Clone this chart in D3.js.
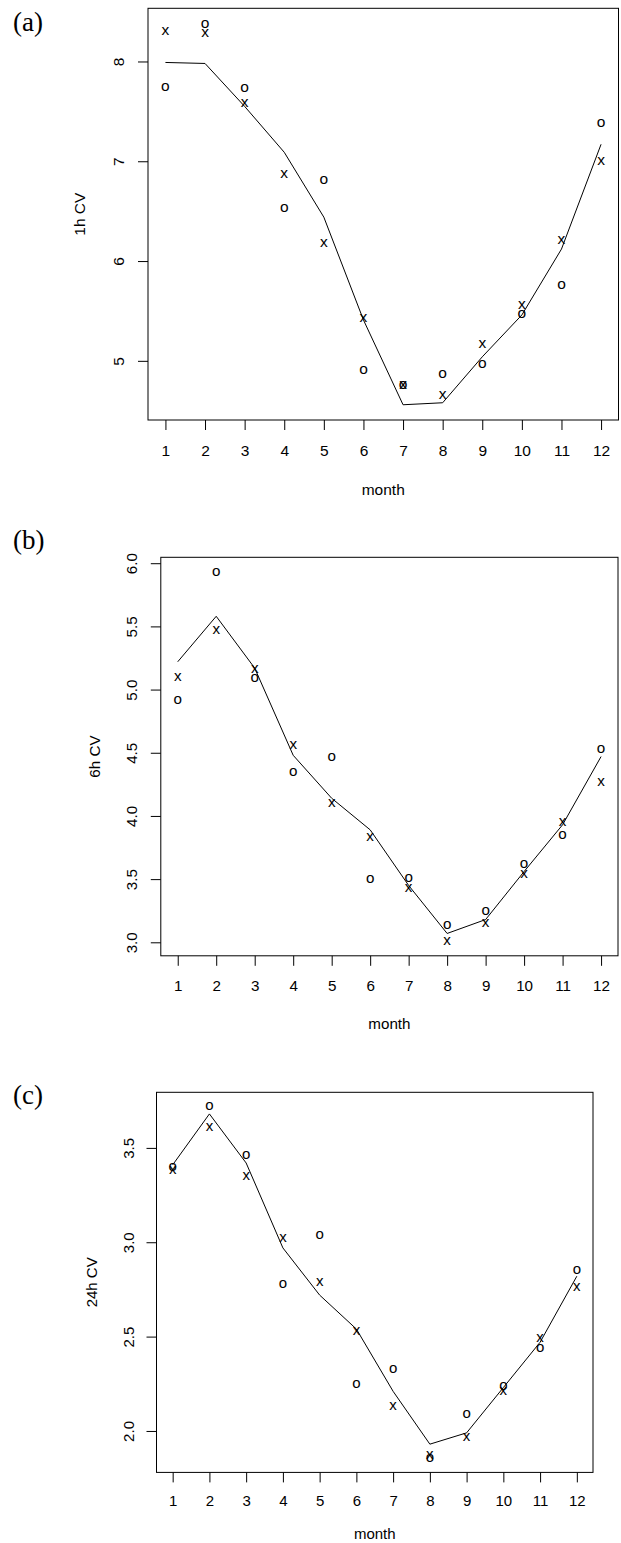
<!DOCTYPE html>
<html lang="en">
<head>
<meta charset="utf-8">
<title>CV by month</title>
<script src="https://d3js.org/d3.v7.min.js"></script>
<style>
  body { margin: 0; background: #fff; }
  svg text { font-family: "Liberation Sans", Arial, Helvetica, sans-serif; fill: #000; }
  .tag { font-family: "Liberation Serif", "Times New Roman", serif; }
</style>
</head>
<body>
<div id="chart"></div>
<script>
// months on the x axis
const months = [1, 2, 3, 4, 5, 6, 7, 8, 9, 10, 11, 12];

// (a) 1h CV
const fitA = [7.99, 7.98, 7.55, 7.09, 6.44, 5.41, 4.56, 4.58, 5.04, 5.46, 6.12, 7.17];
const xA   = [8.31, 8.29, 7.58, 6.87, 6.18, 5.43, 4.76, 4.66, 5.17, 5.56, 6.21, 7.00];
const oA   = [7.74, 8.38, 7.73, 6.53, 6.81, 4.91, 4.76, 4.87, 4.97, 5.47, 5.76, 7.38];
const yTicksA = [5, 6, 7, 8];

// (b) 6h CV
const fitB = [5.22, 5.58, 5.17, 4.48, 4.14, 3.89, 3.45, 3.07, 3.18, 3.56, 3.93, 4.47];
const xB   = [5.10, 5.47, 5.16, 4.56, 4.10, 3.83, 3.43, 3.01, 3.15, 3.54, 3.95, 4.27];
const oB   = [4.92, 5.93, 5.09, 4.35, 4.47, 3.50, 3.51, 3.14, 3.25, 3.62, 3.85, 4.53];
const yTicksB = [3.0, 3.5, 4.0, 4.5, 5.0, 5.5, 6.0];

// (c) 24h CV
const fitC = [3.41, 3.68, 3.42, 2.97, 2.72, 2.54, 2.21, 1.93, 1.99, 2.23, 2.47, 2.82];
const xC   = [3.38, 3.61, 3.35, 3.02, 2.79, 2.53, 2.13, 1.87, 1.97, 2.21, 2.49, 2.76];
const oC   = [3.40, 3.72, 3.46, 2.78, 3.04, 2.25, 2.33, 1.855, 2.09, 2.24, 2.44, 2.85];
const yTicksC = [2.0, 2.5, 3.0, 3.5];

const W = 621, H = 1543;

// layout of each panel (plot box in page pixels)
const panels = [
  {tag: "(a)", ylab: "1h CV", fit: fitA, xs: xA, os: oA, yt: yTicksA, fmt: d3.format("d"),
   left: 148, right: 618.5, top: 8.3, bottom: 420, fs: 15.5,
   tagY: 31, tickLab: 30, yLab: 69, xLab: 36, mLab: 75},
  {tag: "(b)", ylab: "6h CV", fit: fitB, xs: xB, os: oB, yt: yTicksB, fmt: d3.format(".1f"),
   left: 160.8, right: 618, top: 557.3, bottom: 955.8, fs: 15.2,
   tagY: 549, tickLab: 29, yLab: 66.7, xLab: 35, mLab: 73},
  {tag: "(c)", ylab: "24h CV", fit: fitC, xs: xC, os: oC, yt: yTicksC, fmt: d3.format(".1f"),
   left: 156.5, right: 593, top: 1092.3, bottom: 1472.4, fs: 15,
   tagY: 1104, tickLab: 27.7, yLab: 64.4, xLab: 33.7, mLab: 67}
];

const svg = d3.select("#chart").append("svg")
  .attr("width", W)
  .attr("height", H);

// R style range: data extent widened by 4% on each side
function rExtent(arr) {
  const e = d3.extent(arr);
  const pad = (e[1] - e[0]) * 0.04;
  return [e[0] - pad, e[1] + pad];
}

panels.forEach(function(p) {
  const x = d3.scaleLinear()
    .domain(rExtent(months))
    .range([p.left, p.right]);
  const y = d3.scaleLinear()
    .domain(rExtent(p.fit.concat(p.xs, p.os)))
    .range([p.bottom, p.top]);

  const g = svg.append("g").style("font-size", p.fs + "px");

  // panel tag
  svg.append("text")
    .attr("class", "tag")
    .attr("x", 13)
    .attr("y", p.tagY)
    .style("font-size", "27px")
    .text(p.tag);

  // x axis
  const gx = g.append("g")
    .attr("transform", `translate(0,${p.bottom})`)
    .call(d3.axisBottom(x).tickValues(months).tickSize(10).tickSizeOuter(0));
  gx.select(".domain").remove();
  gx.selectAll(".tick line").attr("stroke", "#000");
  gx.selectAll(".tick text")
    .attr("y", p.xLab)
    .attr("dy", null)
    .style("font-size", p.fs + "px")
    .attr("fill", "#000");

  // y axis, labels turned like R's las=0
  const gy = g.append("g")
    .attr("transform", `translate(${p.left},0)`)
    .call(d3.axisLeft(y).tickValues(p.yt).tickFormat(p.fmt).tickSize(10).tickSizeOuter(0));
  gy.select(".domain").remove();
  gy.selectAll(".tick line").attr("stroke", "#000");
  gy.selectAll(".tick text")
    .attr("x", null)
    .attr("dy", null)
    .attr("text-anchor", "middle")
    .attr("transform", `translate(${-p.tickLab + 0.358 * p.fs},0) rotate(-90)`)
    .style("font-size", p.fs + "px")
    .attr("fill", "#000");

  // axis titles
  g.append("text")
    .attr("text-anchor", "middle")
    .attr("x", (p.left + p.right) / 2)
    .attr("y", p.bottom + p.mLab)
    .text("month");
  g.append("text")
    .attr("text-anchor", "middle")
    .attr("transform", `translate(${p.left - p.yLab + 0.358 * p.fs},${(p.top + p.bottom) / 2}) rotate(-90)`)
    .text(p.ylab);

  // plot box
  g.append("rect")
    .attr("x", p.left)
    .attr("y", p.top)
    .attr("width", p.right - p.left)
    .attr("height", p.bottom - p.top)
    .attr("fill", "none")
    .attr("stroke", "#000")
    .attr("stroke-width", 1);

  // fitted curve
  const line = d3.line()
    .x(function(d, i) { return x(months[i]); })
    .y(function(d) { return y(d); });
  g.append("path")
    .datum(p.fit)
    .attr("d", line)
    .attr("fill", "none")
    .attr("stroke", "#000")
    .attr("stroke-width", 1);

  // point characters, centred on the value
  [["x", p.xs], ["o", p.os]].forEach(function(s) {
    g.append("g")
      .selectAll("text")
      .data(s[1])
      .join("text")
      .attr("text-anchor", "middle")
      .attr("x", function(d, i) { return x(months[i]); })
      .attr("y", function(d) { return y(d) + 0.26 * p.fs; })
      .text(s[0]);
  });
});
</script>
</body>
</html>
